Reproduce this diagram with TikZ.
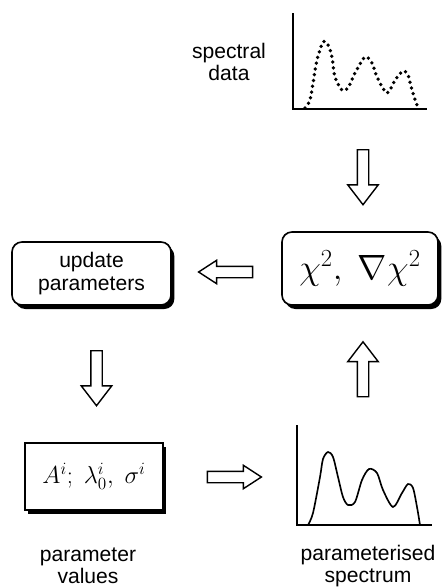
\RequirePackage{fix-cm}
\documentclass[tikz,border=0pt]{standalone}
\usepackage[no-math]{fontspec}
\setmainfont{Liberation Sans}
\usetikzlibrary{shapes.arrows,shadows}

\begin{document}
\begin{tikzpicture}[
        x=0.03cm, y=-0.03cm,
        box/.style={rectangle, draw, line width=1.4pt, fill=white,
          drop shadow={shadow xshift=0.1cm, shadow yshift=-0.12cm, fill=black, opacity=1}},
        roundbox/.style={box, rounded corners=0.3cm},
        hollow/.style={single arrow, draw, line width=1.2pt, fill=white, inner sep=0.15cm,
          minimum height=1.65cm, single arrow head extend=0.285cm, single arrow tip angle=75},
        flat/.style={hollow, minimum height=1.62cm, single arrow head extend=0.18cm, single arrow tip angle=66},
        axisline/.style={line width=1.4pt},
        dots/.style={line width=3.2pt, dash pattern=on 0pt off 5pt, line cap=round},
        curve/.style={line width=1.4pt},
        txt/.style={align=center, font=\fontsize{18}{19}\selectfont}
        ]
      \useasboundingbox (0,0) rectangle (446,587);
      \node[txt] (data) at (229,62) {spectral\\data};
      \draw[axisline] (293,13) -- (293,109) -- (427,109);
      \draw[dots] plot[smooth] coordinates {(305,108) (310,100) (313,83) (317,60) (323,42) (328,45)
        (332,57) (335,77) (342,90) (348,88) (355,73) (365,57) (372,63) (377,77) (387,93) (395,80)
        (403,71) (408,75) (412,90) (418,108)};
      \node[hollow, rotate=-90] (down1) at (363,173.5) {};
      \node[roundbox, txt, minimum width=4.77cm, minimum height=1.89cm] (update) at (91.5,273.5) {update\\parameters};
      \node[roundbox, minimum width=4.68cm, minimum height=2.19cm] (chi) at (360,268.5) {\fontsize{30}{30}\selectfont$\chi^{2},\ \nabla\chi^{2}$};
      \node[flat, rotate=180] (left) at (230,272) {};
      \node[hollow, rotate=-90] (down2) at (96.5,374.5) {};
      \node[hollow, rotate=90] (up) at (363,373) {};
      \node[box, minimum width=4.14cm, minimum height=2.01cm] (values) at (94,476.5) {\fontsize{21}{21}\selectfont$A^{i};\ \lambda_0^{i},\ \sigma^{i}$};
      \node[flat] (right) at (230,477) {};
      \draw[axisline] (297,425) -- (297,525) -- (432,525);
      \draw[curve] plot[smooth] coordinates {(308,525) (313,513) (320,477) (323,459) (328,452) (333,457)
        (338,477) (343,497) (348,505) (355,502) (362,480) (369,469) (377,473) (383,490) (393,507)
        (402,493) (408,484) (413,488) (417,507) (420,525)};
      \node[txt] (valtext) at (88,566) {parameter\\values};
      \node[txt] (spectext) at (368,566) {parameterised\\spectrum};
    \end{tikzpicture}
\end{document}
